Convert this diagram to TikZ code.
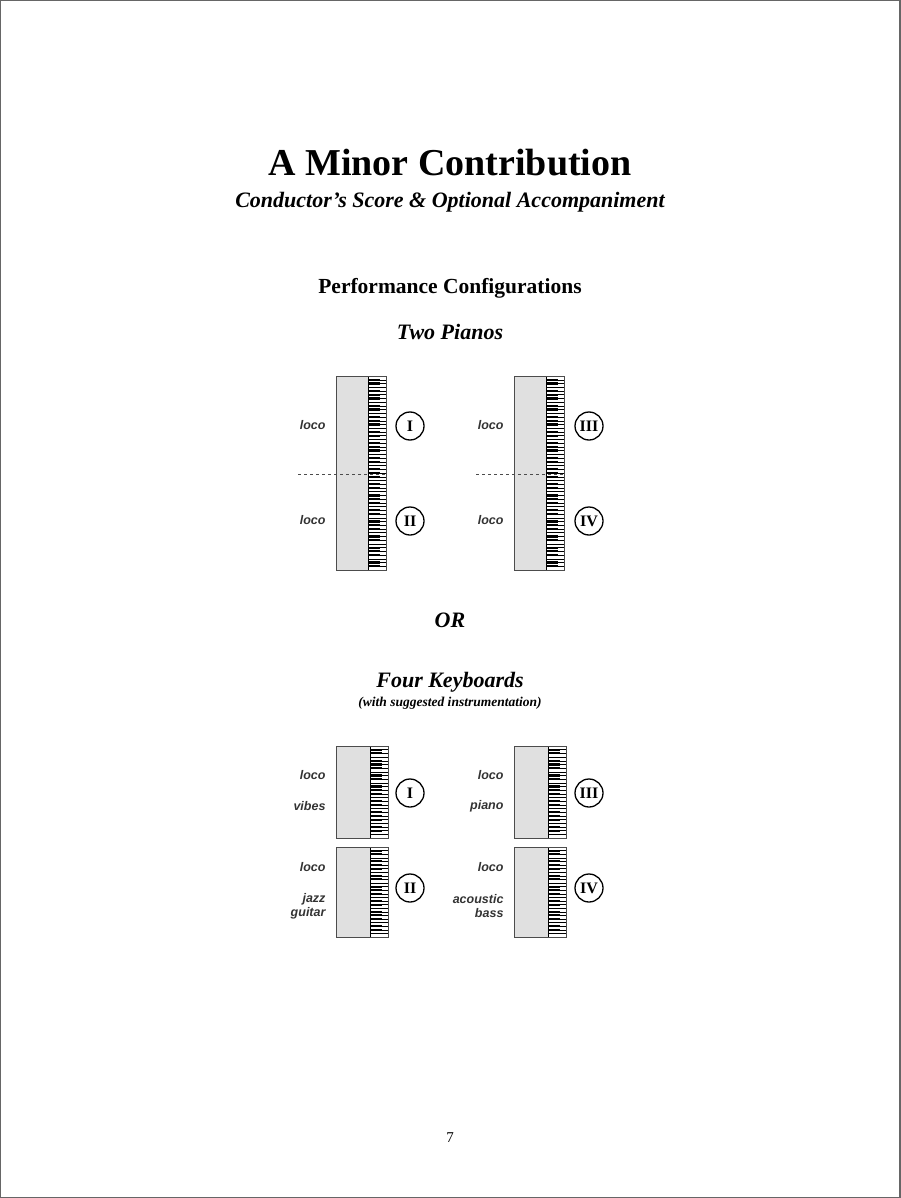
\documentclass[tikz,border=0pt]{standalone}
\usepackage{fontspec}
\setmainfont{Liberation Serif}
\newfontfamily\lsans{Liberation Sans}
\tikzset{
  lab/.style={font=\lsans\bfseries\itshape\fontsize{12.5}{12.5}\selectfont, anchor=east, align=right, text=black!80},
  lab2/.style={lab, font=\lsans\bfseries\itshape\fontsize{12.5}{14}\selectfont},
  num/.style={circle, draw, line width=1.3pt, minimum size=28pt, inner sep=0pt, font=\bfseries\fontsize{16}{16}\selectfont},
  body/.style={draw=black!70, line width=1pt, fill=black!12},
  head/.style={font=\bfseries\itshape\fontsize{22}{22}\selectfont},
}
\newcommand\kbd[5]{% x1 y1 x2 y2 nwhite
  \pgfmathsetmacro\kx{#3-18}
  \pgfmathsetmacro\kh{(#4-#2)/#5}
  \draw[body] (#1,#2) rectangle (#3,#4);
  \fill[white] (\kx,#2) rectangle (#3,#4);
  \foreach \i in {1,...,#5}{
    \pgfmathsetmacro\yy{#2+\i*\kh}
    \pgfmathtruncatemacro\m{mod(\i,7)}
    \draw[line width=0.4pt] (\kx,\yy) -- (#3,\yy);
    \ifnum\m=3 \else\ifnum\m=0 \else
      \ifnum\i<#5 \fill (\kx,\yy-\kh*0.3) rectangle (\kx+12,\yy+\kh*0.3);\fi
    \fi\fi
  }
  \draw[line width=1pt] (\kx,#2) -- (\kx,#4);
  \draw[draw=black!70, line width=1pt] (#1,#2) rectangle (#3,#4);
}
\begin{document}
\begin{tikzpicture}[x=1pt,y=-1pt]
\useasboundingbox (0,0) rectangle (900,1198);
\draw[black!60, line width=1.5pt] (0,0) rectangle (900,1198);
\node[font=\bfseries\fontsize{38}{38}\selectfont] (title) at (450,163) {A Minor Contribution};
\node[font=\bfseries\itshape\fontsize{22}{22}\selectfont] (sub) at (450,202) {Conductor’s Score \& Optional Accompaniment};
\node[font=\bfseries\fontsize{21.5}{21.5}\selectfont] (pc) at (450,288) {Performance Configurations};
\node[head] (tp) at (450,332) {Two Pianos};
\node[head] (or) at (450,620) {OR};
\node[head] (fk) at (450,682) {Four Keyboards};
\node[font=\bfseries\itshape\fontsize{13.5}{13.5}\selectfont] (ws) at (450,703) {(with suggested instrumentation)};
% two pianos
\kbd{336}{376}{386}{570}{52}
\kbd{514}{376}{564}{570}{52}
\draw[dashed, line width=1pt, black!70] (298,474) -- (386,474);
\draw[dashed, line width=1pt, black!70] (476,474) -- (564,474);
\node[num] (p1) at (410,426) {I};
\node[num] (p2) at (410,521) {II};
\node[num] (p3) at (589,426) {III};
\node[num] (p4) at (589,521) {IV};
\node[lab] (l1) at (329,425) {loco};
\node[lab] (l2) at (329,520) {loco};
\node[lab] (l3) at (507,425) {loco};
\node[lab] (l4) at (507,520) {loco};
% four keyboards
\kbd{336}{746}{388}{838}{25}
\kbd{336}{847}{388}{937}{25}
\kbd{514}{746}{566}{838}{25}
\kbd{514}{847}{566}{937}{25}
\node[num] (k1) at (410,793) {I};
\node[num] (k2) at (410,888) {II};
\node[num] (k3) at (589,793) {III};
\node[num] (k4) at (589,888) {IV};
\node[lab] (a1) at (329,775) {loco};
\node[lab] (a2) at (329,806) {vibes};
\node[lab] (a3) at (329,867) {loco};
\node[lab2] (a4) at (329,906) {jazz\\guitar};
\node[lab] (b1) at (507,775) {loco};
\node[lab] (b2) at (507,806) {piano};
\node[lab] (b3) at (507,867) {loco};
\node[lab2] (b4) at (507,906) {acoustic\\bass};
\node[font=\fontsize{15}{15}\selectfont] (pg) at (450,1138) {7};
\end{tikzpicture}
\end{document}
